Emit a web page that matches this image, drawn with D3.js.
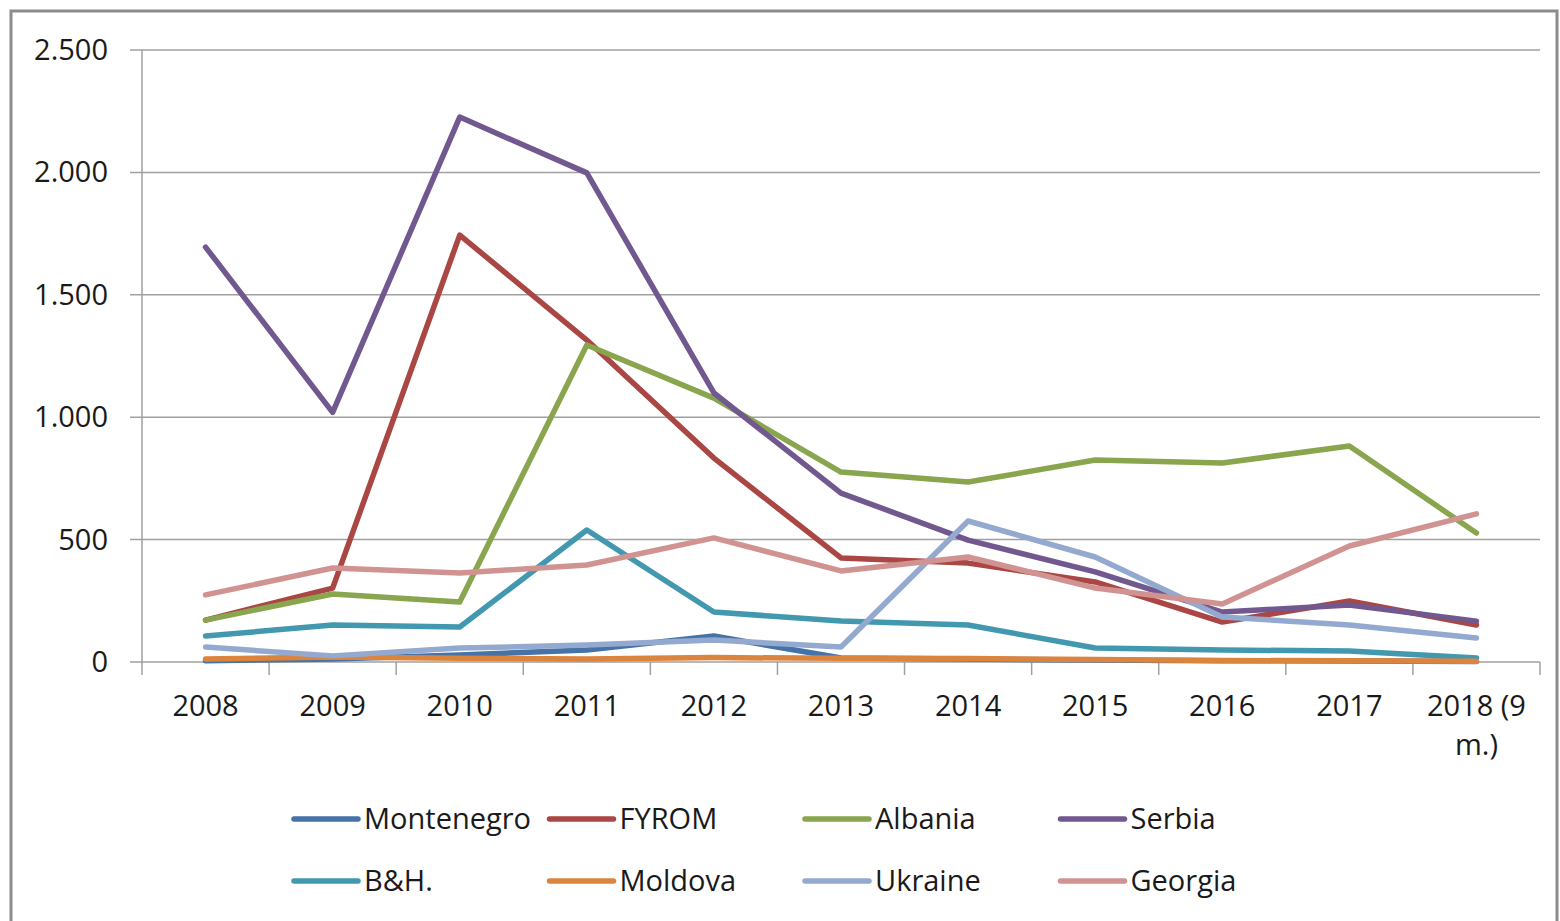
<!DOCTYPE html>
<html>
<head>
<meta charset="utf-8">
<script src="https://cdn.jsdelivr.net/npm/d3@7"></script>
<style>
  body { margin: 0; background: #fff; }
  text { font-family: "Open Sans", sans-serif; fill: #1a1a1a; }
</style>
</head>
<body>
<script>
const years = ["2008", "2009", "2010", "2011", "2012", "2013", "2014", "2015", "2016", "2017", "2018 (9 m.)"];
const yTicks = [0, 500, 1000, 1500, 2000, 2500];

const montenegro = [5, 12, 29, 49, 106, 16, 12, 8, 5, 4, 2];
const fyrom = [171, 302, 1744, 1315, 833, 425, 404, 327, 163, 249, 151];
const albania = [171, 278, 245, 1295, 1078, 776, 735, 825, 813, 882, 527];
const serbia = [1695, 1020, 2226, 1998, 1099, 690, 498, 368, 204, 233, 167];
const bh = [106, 151, 143, 539, 204, 167, 151, 57, 49, 45, 16];
const moldova = [12, 20, 15, 12, 18, 15, 14, 10, 6, 5, 3];
const ukraine = [61, 25, 57, 69, 90, 61, 576, 429, 184, 151, 98];
const georgia = [274, 384, 364, 396, 507, 372, 429, 302, 237, 474, 605];

const series = [
  { name: "Montenegro", values: montenegro, color: "#4572A7" },
  { name: "FYROM", values: fyrom, color: "#AA4643" },
  { name: "Albania", values: albania, color: "#89A54E" },
  { name: "Serbia", values: serbia, color: "#71588F" },
  { name: "B&H.", values: bh, color: "#4198AF" },
  { name: "Moldova", values: moldova, color: "#DB843D" },
  { name: "Ukraine", values: ukraine, color: "#93A9CF" },
  { name: "Georgia", values: georgia, color: "#D19392" }
];

const width = 1560, height = 921;
const svg = d3.select("body").append("svg")
  .attr("width", width)
  .attr("height", height);

// chart frame
svg.append("rect")
  .attr("x", 11).attr("y", 11)
  .attr("width", 1546).attr("height", 920)
  .attr("fill", "none")
  .attr("stroke", "#8c8c8c")
  .attr("stroke-width", 3);

const plotLeft = 142, plotRight = 1540, plotTop = 50, plotBottom = 662;

const x = d3.scaleBand().domain(years).range([plotLeft, plotRight]);
const y = d3.scaleLinear().domain([0, 2500]).range([plotBottom, plotTop]);

// gridlines + y ticks
svg.append("g")
  .selectAll("line")
  .data(yTicks)
  .enter()
  .append("line")
  .attr("x1", plotLeft - 12)
  .attr("x2", plotRight)
  .attr("y1", (d) => y(d))
  .attr("y2", (d) => y(d))
  .attr("stroke", "#a0a0a0")
  .attr("stroke-width", 1.5);

svg.append("g")
  .selectAll("text")
  .data(yTicks)
  .enter()
  .append("text")
  .attr("x", 108)
  .attr("y", (d) => y(d) + 10)
  .attr("text-anchor", "end")
  .style("font-size", "29px")
  .text((d) => d3.format(",")(d).replace(/,/g, "."));

// y axis line
svg.append("line")
  .attr("x1", plotLeft).attr("x2", plotLeft)
  .attr("y1", plotTop).attr("y2", plotBottom)
  .attr("stroke", "#a0a0a0")
  .attr("stroke-width", 1.5);

// x axis ticks between categories
const xTickPos = years.map((d) => x(d)).concat([plotRight]);
svg.append("g")
  .selectAll("line")
  .data(xTickPos)
  .enter()
  .append("line")
  .attr("x1", (d) => d)
  .attr("x2", (d) => d)
  .attr("y1", plotBottom)
  .attr("y2", plotBottom + 13)
  .attr("stroke", "#a0a0a0")
  .attr("stroke-width", 1.5);

const xLabels = svg.append("g")
  .selectAll("text")
  .data(years)
  .enter()
  .append("text")
  .attr("text-anchor", "middle")
  .style("font-size", "29px");

xLabels.each(function (d) {
  const t = d3.select(this);
  const cx = x(d) + x.bandwidth() / 2;
  const lines = d === "2018 (9 m.)" ? ["2018 (9", "m.)"] : [d];
  lines.forEach((l, i) => {
    t.append("tspan")
      .attr("x", cx)
      .attr("y", 716 + i * 39)
      .text(l);
  });
});

// series lines
const line = d3.line()
  .x((d, i) => x(years[i]) + x.bandwidth() / 2)
  .y((d) => y(d));

svg.append("g")
  .selectAll("path")
  .data(series)
  .enter()
  .append("path")
  .attr("d", (d) => line(d.values))
  .attr("fill", "none")
  .attr("stroke", (d) => d.color)
  .attr("stroke-width", 5.5)
  .attr("stroke-linejoin", "round")
  .attr("stroke-linecap", "round");

// legend
const legend = svg.append("g")
  .selectAll("g")
  .data(series)
  .enter()
  .append("g")
  .attr("transform", (d, i) => `translate(${292 + (i % 4) * 255.5},${i < 4 ? 819 : 881})`);

legend.append("line")
  .attr("x1", 2).attr("x2", 66)
  .attr("y1", 0).attr("y2", 0)
  .attr("stroke", (d) => d.color)
  .attr("stroke-width", 5.5)
  .attr("stroke-linecap", "round");

legend.append("text")
  .attr("x", 72)
  .attr("y", 10)
  .style("font-size", "29px")
  .text((d) => d.name);
</script>
</body>
</html>
